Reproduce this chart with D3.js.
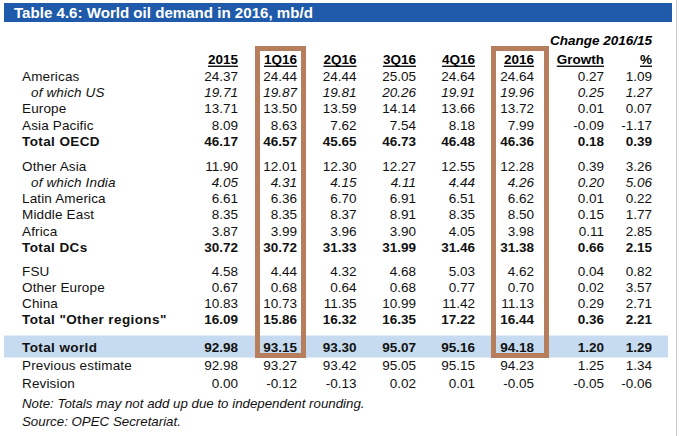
<!DOCTYPE html>
<html><head><meta charset="utf-8">
<script src="https://cdn.jsdelivr.net/npm/d3@7"></script>
<style>
html,body{margin:0;padding:0;background:#fff;}
svg{display:block;font-family:"Liberation Sans",Arial,sans-serif;}
</style></head>
<body>
<svg id="c" width="679" height="436"></svg>
<script>
// ---- DATA ----
const title = "Table 4.6: World oil demand in 2016, mb/d";
const columns = ["2015","1Q16","2Q16","3Q16","4Q16","2016","Growth","%"];
const changeLabel = "Change 2016/15";
const rowLabels = ["Americas","of which US","Europe","Asia Pacific","Total OECD",
  "Other Asia","of which India","Latin America","Middle East","Africa","Total DCs",
  "FSU","Other Europe","China","Total \"Other regions\"",
  "Total world","Previous estimate","Revision"];
const rowTypes = ["n","sub","n","n","total","n","sub","n","n","n","total","n","n","n","total","world","n","n"];
const rowGroups = [0,0,0,0,0,1,1,1,1,1,1,2,2,2,2,3,4,5];
const v2015 = ["24.37","19.71","13.71","8.09","46.17","11.90","4.05","6.61","8.35","3.87","30.72","4.58","0.67","10.83","16.09","92.98","92.98","0.00"];
const v1Q16 = ["24.44","19.87","13.50","8.63","46.57","12.01","4.31","6.36","8.35","3.99","30.72","4.44","0.68","10.73","15.86","93.15","93.27","-0.12"];
const v2Q16 = ["24.44","19.81","13.59","7.62","45.65","12.30","4.15","6.70","8.37","3.96","31.33","4.32","0.64","11.35","16.32","93.30","93.42","-0.13"];
const v3Q16 = ["25.05","20.26","14.14","7.54","46.73","12.27","4.11","6.91","8.91","3.90","31.99","4.68","0.68","10.99","16.35","95.07","95.05","0.02"];
const v4Q16 = ["24.64","19.91","13.66","8.18","46.48","12.55","4.44","6.51","8.35","4.05","31.46","5.03","0.77","11.42","17.22","95.16","95.15","0.01"];
const v2016 = ["24.64","19.96","13.72","7.99","46.36","12.28","4.26","6.62","8.50","3.98","31.38","4.62","0.70","11.13","16.44","94.18","94.23","-0.05"];
const vGrowth = ["0.27","0.25","0.01","-0.09","0.18","0.39","0.20","0.01","0.15","0.11","0.66","0.04","0.02","0.29","0.36","1.20","1.25","-0.05"];
const vPct = ["1.09","1.27","0.07","-1.17","0.39","3.26","5.06","0.22","1.77","2.85","2.15","0.82","3.57","2.71","2.21","1.29","1.34","-0.06"];
const highlighted = ["1Q16","2016"];
const notes = ["Note: Totals may not add up due to independent rounding.","Source: OPEC Secretariat."];

const colValues = [v2015,v1Q16,v2Q16,v3Q16,v4Q16,v2016,vGrowth,vPct];

// ---- DRAW ----
const svg = d3.select("#c");
const FS = 13.5;
const brown = "#B67E5C";
const isBold = i => rowTypes[i]==="total"||rowTypes[i]==="world";

// scales
const xRight = d3.scaleOrdinal().domain(columns).range([238,297,356.5,416,475,534,604,652]);
const rowY = d3.scaleLinear().domain([0,1]).range([80.7, 97]);
const groupGap = d3.scaleOrdinal().domain([0,1,2,3,4,5]).range([0,8.3,15.5,26.3,28.5,30]);
const yOf = i => rowY(i) + groupGap(rowGroups[i]);

// right border line
svg.append("line").attr("x1",676.5).attr("x2",676.5).attr("y1",0).attr("y2",436)
  .attr("stroke","#c8c8c8").attr("stroke-width",1);

// title bar
svg.append("rect").attr("x",4).attr("y",3).attr("width",668).attr("height",19).attr("fill","#1F5BAA");
svg.append("text").attr("x",14).attr("y",18.3).attr("fill","#fff")
  .attr("font-weight","bold").attr("font-size",15.1).text(title);

// Total world band
const wi = rowTypes.indexOf("world");
svg.append("rect").attr("x",4).attr("y",yOf(wi)-16).attr("width",664).attr("height",22)
  .attr("fill","#C6DBEF");

// header: Change label
svg.append("text").attr("x",xRight("%")).attr("y",45).attr("text-anchor","end")
  .attr("font-size",FS).attr("font-weight","bold").attr("font-style","italic").text(changeLabel);

// column headers with underline
const hdr = svg.append("g").selectAll("g").data(columns).join("g");
hdr.append("text").attr("x",d=>xRight(d)).attr("y",64.3).attr("text-anchor","end")
  .attr("font-size",FS).attr("font-weight","bold").text(d=>d)
  .each(function(d){
    const w = this.getComputedTextLength();
    d3.select(this.parentNode).append("rect").attr("x",xRight(d)-w).attr("y",65.6)
      .attr("width",w).attr("height",1.3).attr("fill","#000");
  });

// row labels
svg.append("g").selectAll("text").data(rowLabels).join("text")
  .attr("x",(d,i)=>rowTypes[i]==="sub"?31:22)
  .attr("y",(d,i)=>yOf(i))
  .attr("font-size",FS)
  .attr("font-weight",(d,i)=>isBold(i)?"bold":null)
  .attr("letter-spacing",(d,i)=>isBold(i)?0.4:0.15)
  .attr("font-style",(d,i)=>rowTypes[i]==="sub"?"italic":null)
  .attr("fill","#111")
  .text(d=>d);

// values
columns.forEach((c,ci)=>{
  svg.append("g").selectAll("text").data(colValues[ci]).join("text")
    .attr("x",xRight(c)).attr("y",(d,i)=>yOf(i)).attr("text-anchor","end")
    .attr("font-size",FS)
    .attr("font-weight",(d,i)=>isBold(i)?"bold":null)
    .attr("font-style",(d,i)=>rowTypes[i]==="sub"?"italic":null)
    .attr("fill","#111")
    .text(d=>d);
});

// highlight boxes
svg.append("g").selectAll("rect").data(highlighted).join("rect")
  .attr("x",d=>d==="2016"?xRight(d)-40.5:xRight(d)-39.5)
  .attr("width",d=>d==="2016"?53:46)
  .attr("y",48.5).attr("height",307)
  .attr("fill","none").attr("stroke",brown).attr("stroke-width",5);

// notes
svg.append("g").selectAll("text").data(notes).join("text")
  .attr("x",22).attr("y",(d,i)=>408.3+i*17.5)
  .attr("font-size",13.3).attr("font-style","italic").attr("fill","#111").text(d=>d);
</script>
</body></html>
